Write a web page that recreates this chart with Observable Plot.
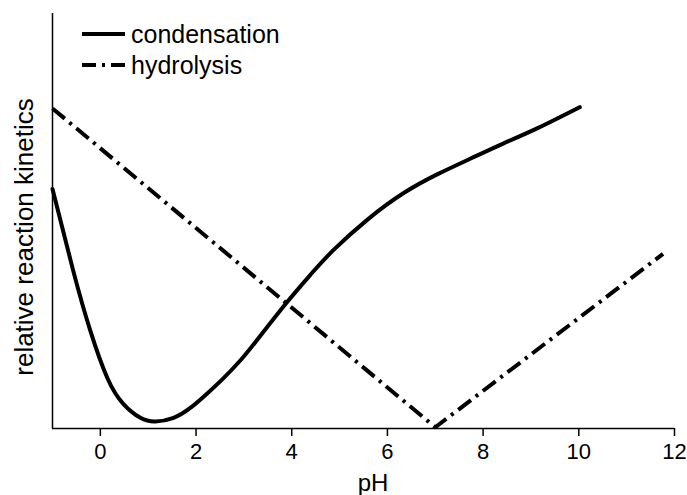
<!DOCTYPE html>
<html>
<head>
<meta charset="utf-8">
<script src="https://cdn.jsdelivr.net/npm/d3@7"></script>
<script src="https://cdn.jsdelivr.net/npm/@observablehq/plot@0.6"></script>
<style>
  html, body { margin: 0; padding: 0; background: #fff; }
  #chart { position: relative; width: 687px; height: 495px; }
</style>
</head>
<body>
<div id="chart"></div>
<script>
// pH positions and relative kinetics (arbitrary units)
const condensationPH = [-1, -0.565, -0.21, 0.146, 0.48, 0.837, 1.15, 1.53, 1.88, 2.24, 2.57, 2.93, 3.28, 3.87, 4.39, 4.87, 5.59, 6.34, 7.05, 7.74, 8.43, 9.14, 10.02];
const condensationK  = [58.3, 38.3, 23.8, 12.3, 6.0, 2.6, 1.7, 2.6, 5.0, 8.6, 12.2, 16.6, 21.6, 30.3, 37.4, 43.4, 50.9, 57.3, 61.9, 65.7, 69.4, 73.1, 78.2];
const hydrolysisPH = [-1, 7, 11.76];
const hydrolysisK  = [77.9, 0.3, 42.5];
const xTicks = [0, 2, 4, 6, 8, 10, 12];
const seriesNames = ["condensation", "hydrolysis"];
const xLabel = "pH";
const yLabel = "relative reaction kinetics";

const condensation = condensationPH.map((x, i) => ({x, y: condensationK[i]}));
const hydrolysis = hydrolysisPH.map((x, i) => ({x, y: hydrolysisK[i]}));

const font = "'Liberation Sans', Arial, sans-serif";

const plot = Plot.plot({
  width: 687,
  height: 495,
  marginLeft: 52,
  marginRight: 13,
  marginTop: 13,
  marginBottom: 67,
  style: {fontFamily: font, fontSize: "22px", color: "#000", background: "#fff"},
  x: {domain: [-1, 12]},
  y: {domain: [0, 101], axis: null},
  marks: [
    Plot.axisX({ticks: xTicks, tickSize: 8, tickPadding: 7, fontSize: 22, label: null, strokeWidth: 1.5}),
    Plot.ruleY([0], {stroke: "#000", strokeWidth: 1.5}),
    Plot.ruleX([-1], {y1: 0, y2: 101, stroke: "#000", strokeWidth: 1.5}),
    Plot.line(hydrolysis, {x: "x", y: "y", stroke: "#000", strokeWidth: 4, strokeDasharray: "16,6,3,6", strokeLinecap: "butt"}),
    Plot.line(condensation, {x: "x", y: "y", stroke: "#000", strokeWidth: 4, curve: "natural", strokeLinecap: "round"})
  ]
});

document.getElementById("chart").appendChild(plot);

const svg = d3.select(plot);
const xs = plot.scale("x");

// axis titles
svg.append("text")
  .attr("x", (xs.range[0] + xs.range[1]) / 2 + 10)
  .attr("y", 491)
  .attr("text-anchor", "middle")
  .attr("font-family", font).attr("font-size", 24).attr("fill", "#000")
  .text(xLabel);
svg.append("text")
  .attr("transform", "translate(33,237) rotate(-90)")
  .attr("text-anchor", "middle")
  .attr("font-family", font).attr("font-size", 26).attr("fill", "#000")
  .text(yLabel);

// legend in the upper-left corner
const lg = svg.append("g").attr("font-family", font).attr("font-size", 25).attr("text-anchor", "start");
const dashes = [null, "14,6,3,6"];
seriesNames.forEach((name, i) => {
  const cy = 34 + i * 31;
  lg.append("line").attr("x1", 82).attr("x2", 125).attr("y1", cy).attr("y2", cy)
    .attr("stroke", "#000").attr("stroke-width", 4)
    .attr("stroke-dasharray", dashes[i]);
  lg.append("text").attr("x", 131).attr("y", cy).attr("dy", "0.35em").attr("fill", "#000").text(name);
});
</script>
</body>
</html>
